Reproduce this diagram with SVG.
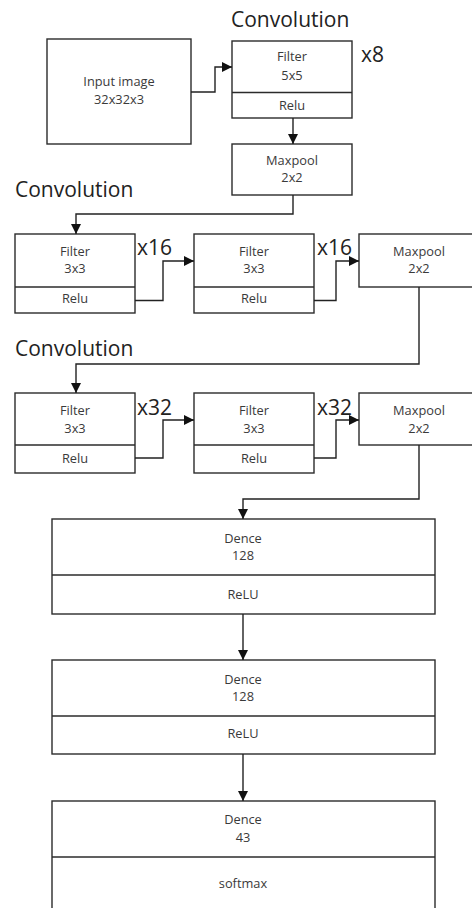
<svg xmlns="http://www.w3.org/2000/svg" width="472" height="908" viewBox="0 0 472 908">
<style>
.box{fill:#fff;stroke:#2b2b2b;stroke-width:1.4}
.div{stroke:#2b2b2b;stroke-width:1.4}
.lbl{font-family:"Open Sans","Noto Sans",sans-serif;font-size:12.8px;fill:#3a3a3a;text-anchor:middle}
.ttl{font-family:"Open Sans","Noto Sans",sans-serif;font-size:21px;fill:#222}
.cn{fill:none;stroke:#222;stroke-width:1.4}
</style>
<defs>
<marker id="ah" viewBox="0 0 10 10" refX="10" refY="5" markerWidth="10" markerHeight="10" markerUnits="userSpaceOnUse" orient="auto">
<path d="M0,0 L10,5 L0,10 Z" fill="#111"/>
</marker>
</defs>
<rect width="472" height="908" fill="#fff"/>
<g id="titles">
<text class="ttl" x="231" y="27">Convolution</text>
<text class="ttl" x="15" y="197">Convolution</text>
<text class="ttl" x="15" y="356">Convolution</text>
<text class="ttl" x="361" y="62">x8</text>
<text class="ttl" x="137" y="255">x16</text>
<text class="ttl" x="317" y="255">x16</text>
<text class="ttl" x="137" y="415">x32</text>
<text class="ttl" x="317" y="415">x32</text>
</g>
<g id="input">
<rect class="box" x="47" y="39" width="144" height="105"/>
<text class="lbl" x="119" y="86">Input image</text>
<text class="lbl" x="119" y="104">32x32x3</text>
</g>
<g id="conv1">
<rect class="box" x="232" y="41" width="120" height="77"/>
<line class="div" x1="232" y1="92.5" x2="352" y2="92.5"/>
<text class="lbl" x="292" y="61">Filter</text>
<text class="lbl" x="292" y="80">5x5</text>
<text class="lbl" x="292" y="110">Relu</text>
</g>
<g id="maxpool1">
<rect class="box" x="232" y="144" width="120" height="51"/>
<text class="lbl" x="292" y="165">Maxpool</text>
<text class="lbl" x="292" y="182">2x2</text>
</g>
<g id="conv2a">
<rect class="box" x="15" y="234" width="120" height="79"/>
<line class="div" x1="15" y1="287" x2="135" y2="287"/>
<text class="lbl" x="75" y="256">Filter</text>
<text class="lbl" x="75" y="273">3x3</text>
<text class="lbl" x="75" y="303">Relu</text>
</g>
<g id="conv2b">
<rect class="box" x="194" y="234" width="120" height="79"/>
<line class="div" x1="194" y1="287" x2="314" y2="287"/>
<text class="lbl" x="254" y="256">Filter</text>
<text class="lbl" x="254" y="273">3x3</text>
<text class="lbl" x="254" y="303">Relu</text>
</g>
<g id="maxpool2">
<rect class="box" x="359" y="234" width="130" height="53"/>
<text class="lbl" x="419" y="256">Maxpool</text>
<text class="lbl" x="419" y="273">2x2</text>
</g>
<g id="conv3a">
<rect class="box" x="15" y="393" width="120" height="80"/>
<line class="div" x1="15" y1="445" x2="135" y2="445"/>
<text class="lbl" x="75" y="415">Filter</text>
<text class="lbl" x="75" y="433">3x3</text>
<text class="lbl" x="75" y="463">Relu</text>
</g>
<g id="conv3b">
<rect class="box" x="194" y="393" width="120" height="80"/>
<line class="div" x1="194" y1="445" x2="314" y2="445"/>
<text class="lbl" x="254" y="415">Filter</text>
<text class="lbl" x="254" y="433">3x3</text>
<text class="lbl" x="254" y="463">Relu</text>
</g>
<g id="maxpool3">
<rect class="box" x="359" y="393" width="130" height="52"/>
<text class="lbl" x="419" y="415">Maxpool</text>
<text class="lbl" x="419" y="433">2x2</text>
</g>
<g id="dense1">
<rect class="box" x="52" y="519" width="383" height="95"/>
<line class="div" x1="52" y1="575" x2="435" y2="575"/>
<text class="lbl" x="243" y="543">Dence</text>
<text class="lbl" x="243" y="560">128</text>
<text class="lbl" x="243" y="599">ReLU</text>
</g>
<g id="dense2">
<rect class="box" x="52" y="660" width="383" height="94"/>
<line class="div" x1="52" y1="716" x2="435" y2="716"/>
<text class="lbl" x="243" y="684">Dence</text>
<text class="lbl" x="243" y="701">128</text>
<text class="lbl" x="243" y="738">ReLU</text>
</g>
<g id="dense3">
<rect class="box" x="52" y="801" width="383" height="120"/>
<line class="div" x1="52" y1="857" x2="435" y2="857"/>
<text class="lbl" x="243" y="824">Dence</text>
<text class="lbl" x="243" y="842">43</text>
<text class="lbl" x="243" y="888">softmax</text>
</g>
<g id="connectors">
<path class="cn" marker-end="url(#ah)" d="M191,92 H215 V67 H232"/>
<path class="cn" marker-end="url(#ah)" d="M293,118 V144"/>
<path class="cn" marker-end="url(#ah)" d="M293,195 V214 H76 V234"/>
<path class="cn" marker-end="url(#ah)" d="M135,300.5 H163 V261 H194"/>
<path class="cn" marker-end="url(#ah)" d="M314,300.5 H336 V261 H359"/>
<path class="cn" marker-end="url(#ah)" d="M419,287 V364 H76 V393"/>
<path class="cn" marker-end="url(#ah)" d="M135,458 H163 V420 H194"/>
<path class="cn" marker-end="url(#ah)" d="M314,458 H336 V420 H359"/>
<path class="cn" marker-end="url(#ah)" d="M419,445 V499 H243 V519"/>
<path class="cn" marker-end="url(#ah)" d="M243,614 V660"/>
<path class="cn" marker-end="url(#ah)" d="M243,754 V801"/>
</g>
</svg>
